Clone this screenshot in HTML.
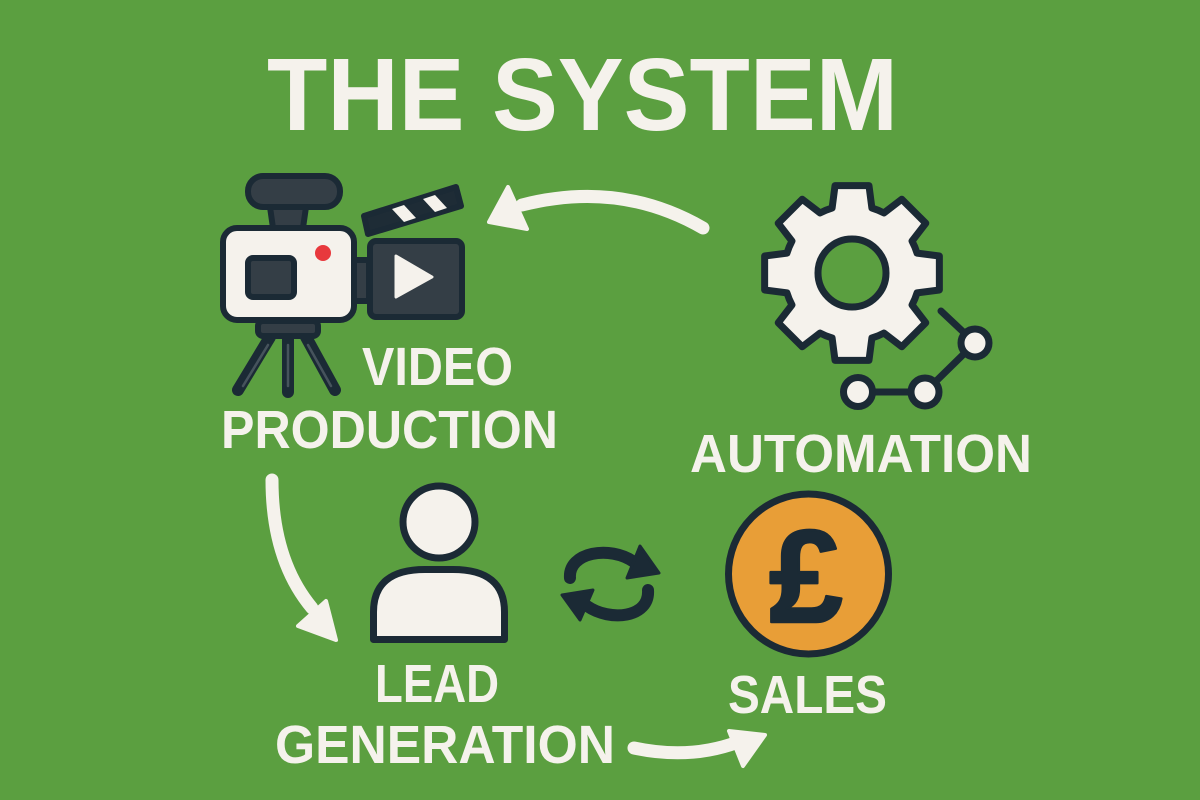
<!DOCTYPE html>
<html>
<head>
<meta charset="utf-8">
<style>
html,body{margin:0;padding:0;background:#5b9f40;}
svg{display:block;}
text{font-family:"Liberation Sans",Arial,sans-serif;font-weight:bold;}
</style>
</head>
<body>
<svg width="1200" height="800" viewBox="0 0 1200 800" xmlns="http://www.w3.org/2000/svg">
<rect x="0" y="0" width="1200" height="800" fill="#5b9f40"/>

<!-- Title -->
<text x="267" y="130" font-size="103" fill="#f5f2ec" textLength="631" lengthAdjust="spacingAndGlyphs">THE SYSTEM</text>

<!-- Camera -->
<g stroke="#1b2a35" stroke-width="6" stroke-linejoin="round">
  <rect x="248" y="176" width="92" height="31" rx="15" fill="#343e46"/>
  <path d="M270,207 L306,207 L303,228 L273,228 Z" fill="#343e46"/>
  <line x1="270" y1="337" x2="238" y2="390" stroke-width="12" stroke-linecap="round"/>
  <line x1="288" y1="337" x2="288" y2="392" stroke-width="12" stroke-linecap="round"/>
  <line x1="306" y1="337" x2="335" y2="390" stroke-width="12" stroke-linecap="round"/>
  <rect x="258" y="321" width="60" height="15" rx="5" fill="#343e46"/>
  <rect x="223" y="228" width="131" height="92" rx="14" fill="#f5f2ec"/>
  <rect x="248" y="258" width="46" height="39" rx="5" fill="#343e46"/>
  <rect x="354" y="260" width="15" height="41" fill="#343e46"/>
  <rect x="370" y="241" width="92" height="76" rx="6" fill="#343e46"/>
  <path d="M364,216 L456,187 L461,206 L368,234 Z" fill="#1e2c36"/>
</g>
<g stroke="#46535c" stroke-width="2.5" stroke-linecap="round">
  <line x1="268" y1="345" x2="243" y2="386"/>
  <line x1="288" y1="345" x2="288" y2="386"/>
  <line x1="308" y1="345" x2="331" y2="386"/>
</g>
<circle cx="323" cy="253" r="8" fill="#e8393d"/>
<path d="M396,256 L432,277 L396,297 Z" fill="#f5f2ec" stroke="#f5f2ec" stroke-width="3" stroke-linejoin="round"/>
<path d="M392,209 L404,205 L416,218 L404,222 Z" fill="#f5f2ec"/>
<path d="M423,199 L435,195 L447,208 L435,212 Z" fill="#f5f2ec"/>

<!-- Labels -->
<g fill="#f5f2ec" font-size="54">
  <text x="362" y="385" textLength="151" lengthAdjust="spacingAndGlyphs">VIDEO</text>
  <text x="221" y="448" textLength="337" lengthAdjust="spacingAndGlyphs">PRODUCTION</text>
  <text x="690" y="472" textLength="342" lengthAdjust="spacingAndGlyphs">AUTOMATION</text>
  <text x="375" y="702" textLength="124" lengthAdjust="spacingAndGlyphs">LEAD</text>
  <text x="275" y="763" textLength="340" lengthAdjust="spacingAndGlyphs">GENERATION</text>
  <text x="728" y="713" textLength="159" lengthAdjust="spacingAndGlyphs">SALES</text>
</g>

<!-- Gear -->
<path d="M832.12,207.97 L835.02,185.64 L868.98,185.64 L871.88,207.97 A68,68 0 0 1 883.93,212.96 L901.77,199.22 L925.78,223.23 L912.04,241.07 A68,68 0 0 1 917.03,253.12 L939.36,256.02 L939.36,289.98 L917.03,292.88 A68,68 0 0 1 912.04,304.93 L925.78,322.77 L901.77,346.78 L883.93,333.04 A68,68 0 0 1 871.88,338.03 L868.98,360.36 L835.02,360.36 L832.12,338.03 A68,68 0 0 1 820.07,333.04 L802.23,346.78 L778.22,322.77 L791.96,304.93 A68,68 0 0 1 786.97,292.88 L764.64,289.98 L764.64,256.02 L786.97,253.12 A68,68 0 0 1 791.96,241.07 L778.22,223.23 L802.23,199.22 L820.07,212.96 A68,68 0 0 1 832.12,207.97 Z" fill="#f5f2ec" stroke="#1b2a35" stroke-width="7" stroke-linejoin="round"/>
<circle cx="852" cy="273" r="34" fill="#5b9f40" stroke="#1b2a35" stroke-width="7"/>

<!-- Network -->
<g stroke="#1b2a35" stroke-width="7" stroke-linecap="round">
  <line x1="941" y1="311" x2="975" y2="343"/>
  <line x1="975" y1="343" x2="925" y2="392"/>
  <line x1="925" y1="392" x2="858" y2="392"/>
</g>
<g fill="#f5f2ec" stroke="#1b2a35" stroke-width="7">
  <circle cx="975" cy="343" r="14"/>
  <circle cx="925" cy="392" r="14"/>
  <circle cx="858" cy="392" r="14.5"/>
</g>

<!-- Person -->
<circle cx="439" cy="522" r="36" fill="#f5f2ec" stroke="#1b2a35" stroke-width="7"/>
<path d="M373.5,639.5 L373.5,612 Q373.5,569.5 425,569.5 L453,569.5 Q504.5,569.5 504.5,612 L504.5,639.5 Z" fill="#f5f2ec" stroke="#1b2a35" stroke-width="7" stroke-linejoin="round"/>

<!-- Refresh icon -->
<g stroke="#1b2a35" stroke-width="12" fill="none" stroke-linecap="round">
  <path d="M570,578 C568,552 610,545 634,562"/>
  <path d="M648,590 C650,618 610,622 587,606"/>
</g>
<g fill="#1b2a35" stroke="#1b2a35" stroke-width="3" stroke-linejoin="round">
  <path d="M640,546 L659,573 L627,578 Z"/>
  <path d="M562,595 L593,590 L580,620 Z"/>
</g>

<!-- Coin -->
<circle cx="808.5" cy="574" r="80" fill="#e89e37" stroke="#1b2a35" stroke-width="7"/>
<text x="806" y="622" font-size="132" fill="#1b2a35" stroke="#1b2a35" stroke-width="2.5" stroke-linejoin="round" text-anchor="middle">£</text>

<!-- White arrows -->
<g stroke="#f5f2ec" stroke-width="13" fill="none" stroke-linecap="round">
  <path d="M703,228 Q620,180 522,205"/>
  <path d="M272,480 Q272,560 312,608"/>
  <path d="M634,748 Q690,760 738,742"/>
</g>
<g fill="#f5f2ec" stroke="#f5f2ec" stroke-width="4" stroke-linejoin="round">
  <path d="M489,222 L508,187 L527,229 Z"/>
  <path d="M298,626 L326,601 L336,640 Z"/>
  <path d="M729,731 L765,735 L743,766 Z"/>
</g>
</svg>
</body>
</html>
